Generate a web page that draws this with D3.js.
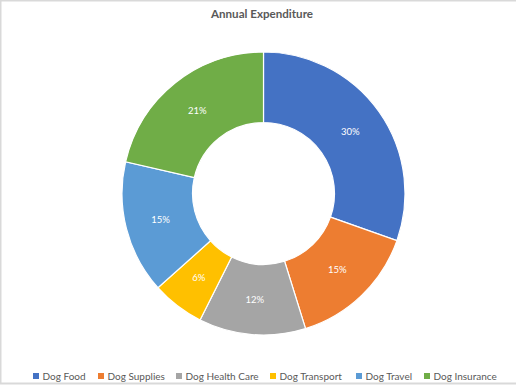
<!DOCTYPE html>
<html>
<head>
<meta charset="utf-8">
<script src="https://cdn.jsdelivr.net/npm/d3@7"></script>
<style>
  html, body { margin: 0; padding: 0; background: #fff; }
  svg { display: block; }
</style>
</head>
<body>
<svg id="chart" width="516" height="385"></svg>
<script>
// data (percent of annual spend)
const categories = ["Dog Food", "Dog Supplies", "Dog Health Care", "Dog Transport", "Dog Travel", "Dog Insurance"];
const values = [30.4, 14.8, 12.2, 6.0, 15.2, 21.4];
const colors = ["#4472C4", "#ED7D31", "#A5A5A5", "#FFC000", "#5B9BD5", "#70AD47"];

let svg = d3.select("#chart");
let width = +svg.attr("width");
let height = +svg.attr("height");

// light frame like the source screenshot
svg.append("rect")
    .attr("x", 0.5).attr("y", 0.5)
    .attr("width", width + 2).attr("height", height - 2)
    .attr("fill", "none")
    .attr("stroke", "#d9d9d9")
    .attr("stroke-width", 2);

svg.append("text")
    .attr("x", 262)
    .attr("y", 18)
    .attr("text-anchor", "middle")
    .attr("font-family", "Lato, sans-serif")
    .attr("font-size", 11.6)
    .attr("font-weight", "bold")
    .attr("fill", "#595959")
    .text("Annual Expenditure");

let cx = 263.5, cy = 193.5;
let outer = 141.5, inner = 71;

let color = d3.scaleOrdinal().domain(categories).range(colors);
let total = d3.sum(values);
let data = categories.map((c, i) => ({name: c, value: values[i]}));

let pie = d3.pie().value(d => d.value).sort(null);
let arc = d3.arc().innerRadius(inner).outerRadius(outer);
let labelArc = d3.arc().innerRadius((inner + outer) / 2).outerRadius((inner + outer) / 2);

let g = svg.append("g").attr("transform", "translate(" + cx + "," + cy + ")");

let slices = g.selectAll("g.slice")
    .data(pie(data))
    .enter().append("g")
    .attr("class", "slice");

slices.append("path")
    .attr("d", arc)
    .attr("fill", d => color(d.data.name))
    .attr("stroke", "#fff")
    .attr("stroke-width", 1.2);

slices.append("text")
    .attr("transform", d => "translate(" + labelArc.centroid(d) + ")")
    .attr("text-anchor", "middle")
    .attr("dy", "0.35em")
    .attr("font-family", "Lato, sans-serif")
    .attr("font-size", 9.5)
    .attr("fill", "#fff")
    .text(d => Math.round(d.data.value / total * 100) + "%");

// legend along the bottom
let legendX = [33, 98, 176, 270, 356, 424];
let legend = svg.append("g")
    .attr("font-family", "Lato, sans-serif")
    .attr("font-size", 10)
    .selectAll("g")
    .data(categories)
    .enter().append("g")
    .attr("transform", (d, i) => "translate(" + legendX[i] + ",376)");

legend.append("rect")
    .attr("x", 0)
    .attr("y", -3)
    .attr("width", 6)
    .attr("height", 6)
    .attr("fill", d => color(d));

legend.append("text")
    .attr("x", 9.5)
    .attr("dy", "0.35em")
    .attr("fill", "#595959")
    .text(d => d);
</script>
</body>
</html>
